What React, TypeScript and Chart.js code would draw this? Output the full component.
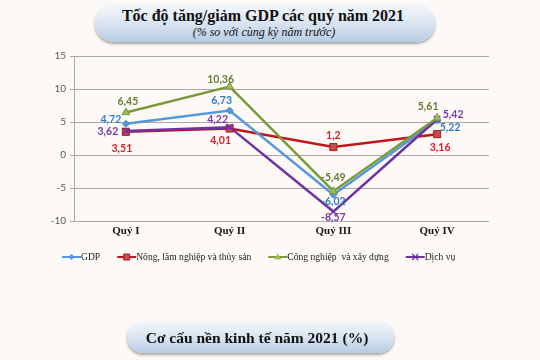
import React, { useEffect, useRef } from 'react';
import { Chart, registerables } from 'chart.js';

Chart.register(...registerables);

const categories = ['Quý I', 'Quý II', 'Quý III', 'Quý IV'];
const gdp = [4.72, 6.73, -6.02, 5.22];
const nongLamThuy = [3.51, 4.01, 1.2, 3.16];
const congNghiepXayDung = [6.45, 10.36, -5.49, 5.61];
const dichVu = [3.62, 4.22, -8.57, 5.42];
const seriesNames = ['GDP', 'Nông, lâm nghiệp và thủy sản', 'Công nghiệp  và xây dựng', 'Dịch vụ'];
const yMin = -10;
const yMax = 15;
const yStep = 5;

const lineColors = ['#5597dd', '#c3141b', '#7b9a3c', '#7030a0'];
const labelColors = ['#2f7cc8', '#d7202a', '#687c36', '#7a3aa8'];
const markerFill = ['#5597dd', '#c0504d', '#9bbb59', '#7030a0'];
const markerBorder = ['#4a86c8', '#b01820', '#7b9a3c', '#7030a0'];
const pointStyles = ['rectRot', 'rect', 'triangle', 'crossRot'];
const pointRadii = [3.5, 5, 4.5, 4.5];
const drawOrder = [3, 4, 1, 2];
// label offsets (dx, dy) relative to each point
const labelOffsets = [
  [[-15, -4], [-8, -10], [0, 7], [13, 7]],
  [[-4, 17], [-9, 12], [0, -11], [3, 13]],
  [[2, -11], [-9, -7], [0, -14], [-9, -11]],
  [[-18, 1], [-12, -8], [0, 6], [16, -5]],
];

function fmt(v: number) {
  return String(v).replace('.', ',');
}

function drawMarker(ctx: CanvasRenderingContext2D, i: number, x: number, y: number) {
  ctx.save();
  ctx.fillStyle = markerFill[i];
  ctx.strokeStyle = markerBorder[i];
  ctx.lineWidth = 1;
  ctx.beginPath();
  if (i === 0) {
    ctx.moveTo(x, y - 3); ctx.lineTo(x + 3, y); ctx.lineTo(x, y + 3); ctx.lineTo(x - 3, y); ctx.closePath();
    ctx.fill();
  } else if (i === 1) {
    ctx.rect(x - 3, y - 3, 6, 6);
    ctx.fill(); ctx.stroke();
  } else if (i === 2) {
    ctx.moveTo(x, y - 3.5); ctx.lineTo(x + 3.5, y + 2.5); ctx.lineTo(x - 3.5, y + 2.5); ctx.closePath();
    ctx.fill();
  } else {
    ctx.lineWidth = 1.2;
    ctx.moveTo(x - 3, y - 3); ctx.lineTo(x + 3, y + 3);
    ctx.moveTo(x + 3, y - 3); ctx.lineTo(x - 3, y + 3);
    ctx.stroke();
  }
  ctx.restore();
}

const overlayPlugin = {
  id: 'overlayPlugin',
  afterDatasetsDraw(chart: any) {
    const ctx: CanvasRenderingContext2D = chart.ctx;
    ctx.save();
    ctx.font = 'bold 10.5px Lato';
    ctx.textAlign = 'center';
    ctx.textBaseline = 'middle';
    chart.data.datasets.forEach((ds: any, i: number) => {
      const meta = chart.getDatasetMeta(i);
      meta.data.forEach((pt: any, j: number) => {
        const [dx, dy] = labelOffsets[i][j];
        ctx.fillStyle = labelColors[i];
        ctx.fillText(fmt(ds.data[j]), pt.x + dx, pt.y + dy);
      });
    });
    // legend
    ctx.font = '9.6px "Liberation Serif"';
    ctx.textAlign = 'left';
    let x = 62;
    const y = 257;
    seriesNames.forEach((name, i) => {
      ctx.strokeStyle = lineColors[i];
      ctx.lineWidth = 2;
      ctx.beginPath();
      ctx.moveTo(x, y);
      ctx.lineTo(x + 19, y);
      ctx.stroke();
      drawMarker(ctx, i, x + 9.5, y);
      ctx.fillStyle = '#222';
      ctx.fillText(name, x + 19, y);
      x += 19 + ctx.measureText(name).width + 17;
    });
    ctx.restore();
  },
};

function ChartCanvas() {
  const ref = useRef<HTMLCanvasElement | null>(null);
  useEffect(() => {
    if (!ref.current) return;
    const series = [gdp, nongLamThuy, congNghiepXayDung, dichVu];
    const chart = new Chart(ref.current, {
      type: 'line',
      data: {
        labels: categories,
        datasets: series.map((d, i) => ({
          label: seriesNames[i],
          data: d,
          borderColor: lineColors[i],
          backgroundColor: markerFill[i],
          pointBackgroundColor: markerFill[i],
          pointBorderColor: markerBorder[i],
          pointBorderWidth: i === 3 ? 1.5 : 1,
          pointStyle: pointStyles[i] as any,
          pointRadius: pointRadii[i],
          borderWidth: 2.5,
          tension: 0,
          order: drawOrder[i],
        })),
      },
      options: {
        responsive: false,
        animation: false,
        layout: { padding: { left: 0, right: 51, top: 56, bottom: 109 } },
        plugins: { legend: { display: false }, tooltip: { enabled: false }, title: { display: false } },
        scales: {
          x: {
            type: 'category',
            offset: true,
            grid: { display: false, drawTicks: false, tickLength: 0 },
            border: { display: false },
            ticks: {
              font: { family: '"Liberation Serif"', size: 11, weight: 'bold' },
              color: '#1a1a1a',
              padding: 4,
            },
            afterFit: (scale: any) => { scale.height = 30; },
          },
          y: {
            min: yMin,
            max: yMax,
            ticks: {
              stepSize: yStep,
              font: { family: 'Lato', size: 10 },
              color: '#595959',
              padding: 4,
            },
            grid: { color: '#a8a8a8', lineWidth: 1, tickLength: 4 },
            border: { color: '#a8a8a8' },
            afterFit: (scale: any) => { scale.width = 74; },
          },
        },
      },
      plugins: [overlayPlugin],
    });
    return () => chart.destroy();
  }, []);
  return <canvas ref={ref} width={540} height={360} style={{ position: 'absolute', left: 0, top: 0, width: 540, height: 360 }} />;
}

const pillStyle: React.CSSProperties = {
  position: 'absolute',
  background: 'linear-gradient(to bottom, #f4f7fb 0%, #dde7f2 45%, #b8cce4 100%)',
  boxShadow: '0 2px 3px rgba(0,0,0,0.35)',
  textAlign: 'center',
  fontFamily: '"Liberation Serif", serif',
  color: '#111',
};

export default function App() {
  return (
    <div style={{ position: 'absolute', left: 0, top: 0, width: 540, height: 360, background: '#fdf9f6', overflow: 'hidden' }}>
      <div style={{ ...pillStyle, left: 95, top: 4, width: 340, height: 38, borderRadius: 19 }}>
        <div style={{ fontWeight: 'bold', fontSize: 16, lineHeight: '18px', marginTop: 3, marginLeft: -4 }}>Tốc độ tăng/giảm GDP các quý năm 2021</div>
        <div style={{ fontStyle: 'italic', fontSize: 12, lineHeight: '14px', marginLeft: -2 }}>(% so với cùng kỳ năm trước)</div>
      </div>
      <ChartCanvas />
      <div style={{ ...pillStyle, left: 127, top: 321, width: 267, height: 32, borderRadius: 16 }}>
        <div style={{ fontWeight: 'bold', fontSize: 15.5, lineHeight: '33px', marginLeft: -7 }}>Cơ cấu nền kinh tế năm 2021 (%)</div>
      </div>
    </div>
  );
}
